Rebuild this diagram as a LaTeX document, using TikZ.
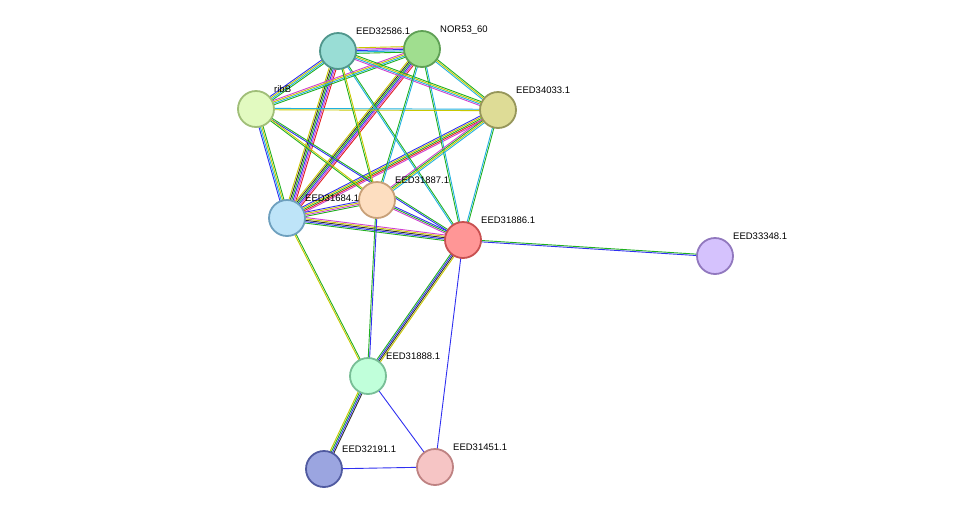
\documentclass[tikz,border=0pt]{standalone}
\usepackage{fontspec}
\setmainfont{Liberation Sans}
\usetikzlibrary{calc,backgrounds}
\definecolor{tm}{HTML}{C8C800}
\definecolor{nb}{HTML}{20B020}
\definecolor{db}{HTML}{20B0E0}
\definecolor{ex}{HTML}{D040D0}
\definecolor{co}{HTML}{3030F0}
\definecolor{fu}{HTML}{E02020}
\definecolor{ce}{HTML}{303030}
\newcommand{\stredge}[3]{%
  \foreach \c/\o in {#3} {
    \draw[\c, line width=0.9pt] ($(#1)!\o*1.4pt!90:(#2)$) -- ($(#2)!\o*1.4pt!-90:(#1)$);
  }}
\begin{document}
\begin{tikzpicture}
    [
    x=1pt,y=-1pt,
    prot/.style={circle,draw,line width=1.8pt,inner sep=0pt,minimum size=36pt},
    lab/.style={anchor=base west,font=\fontsize{9.5}{11}\selectfont,inner sep=0pt},
    ]
    \useasboundingbox (0,0) rectangle (975,515);
    \node (a) at (338,51) [prot,fill={rgb,255:red,153;green,221;blue,213},draw={rgb,255:red,80;green,150;blue,140}] {};
    \node (b) at (422,49) [prot,fill={rgb,255:red,160;green,222;blue,143},draw={rgb,255:red,95;green,160;blue,85}] {};
    \node (c) at (256,109) [prot,fill={rgb,255:red,226;green,250;blue,192},draw={rgb,255:red,160;green,190;blue,120}] {};
    \node (d) at (498,110) [prot,fill={rgb,255:red,222;green,220;blue,150},draw={rgb,255:red,150;green,150;blue,90}] {};
    \node (e) at (377,200) [prot,fill={rgb,255:red,253;green,222;blue,192},draw={rgb,255:red,200;green,160;blue,120}] {};
    \node (f) at (287,218) [prot,fill={rgb,255:red,190;green,228;blue,248},draw={rgb,255:red,110;green,160;blue,190}] {};
    \node (g) at (463,240) [prot,fill={rgb,255:red,255;green,150;blue,150},draw={rgb,255:red,200;green,80;blue,80}] {};
    \node (h) at (715,256) [prot,fill={rgb,255:red,213;green,194;blue,253},draw={rgb,255:red,145;green,120;blue,190}] {};
    \node (i) at (368,376) [prot,fill={rgb,255:red,192;green,255;blue,218},draw={rgb,255:red,120;green,190;blue,150}] {};
    \node (j) at (324,469) [prot,fill={rgb,255:red,155;green,165;blue,224},draw={rgb,255:red,80;green,90;blue,160}] {};
    \node (k) at (435,467) [prot,fill={rgb,255:red,246;green,197;blue,197},draw={rgb,255:red,190;green,130;blue,130}] {};

    \node (la) [lab] at ([shift={(18,-17)}]a) {EED32586.1};
    \node (lb) [lab] at ([shift={(18,-17)}]b) {NOR53\_60};
    \node (lc) [lab] at ([shift={(18,-17)}]c) {ribB};
    \node (ld) [lab] at ([shift={(18,-17)}]d) {EED34033.1};
    \node (le) [lab] at ([shift={(18,-17)}]e) {EED31887.1};
    \node (lf) [lab] at ([shift={(18,-17)}]f) {EED31684.1};
    \node (lg) [lab] at ([shift={(18,-17)}]g) {EED31886.1};
    \node (lh) [lab] at ([shift={(18,-17)}]h) {EED33348.1};
    \node (li) [lab] at ([shift={(18,-17)}]i) {EED31888.1};
    \node (lj) [lab] at ([shift={(18,-17)}]j) {EED32191.1};
    \node (lk) [lab] at ([shift={(18,-17)}]k) {EED31451.1};

    \begin{pgfonlayer}{background}
    \stredge{a}{b}{nb/-2,db/-1,co/0,ex/1,tm/2}
    \stredge{f}{a}{fu/-2.5,ex/-1.5,co/-0.5,nb/0.5,ce/1.5,tm/2.5}
    \stredge{f}{b}{fu/-2.5,ex/-1.5,co/-0.5,nb/0.5,ce/1.5,tm/2.5}
    \stredge{f}{d}{ex/-2,fu/-1,nb/0,tm/1,co/2}
    \stredge{f}{c}{nb/-1.5,tm/-0.5,db/0.5,co/1.5}
    \stredge{f}{e}{nb/-1.5,ex/-0.5,tm/0.5,co/1.5}
    \stredge{f}{g}{nb/-2,co/-1,ce/0,tm/1,ex/2}
    \stredge{g}{h}{co/-0.5,nb/0.5}
    \stredge{g}{i}{nb/-1.5,co/-0.5,ce/0.5,tm/1.5}
    \stredge{g}{k}{co/0}
    \stredge{i}{f}{nb/-0.5,tm/0.5}
    \stredge{i}{e}{co/-0.5,nb/0.5}
    \stredge{i}{j}{tm/-1.5,nb/-0.5,co/0.5,ce/1.5}
    \stredge{i}{k}{co/0}
    \stredge{j}{k}{co/0}
    \stredge{g}{a}{nb/-0.5,db/0.5}
    \stredge{g}{b}{db/-0.5,nb/0.5}
    \stredge{g}{d}{nb/-0.5,db/0.5}
    \stredge{g}{c}{nb/-0.5,co/0.5}
    \stredge{g}{e}{co/-1,nb/0,ex/1}
    \stredge{c}{a}{nb/-1.5,db/-0.5,tm/0.5,co/1.5}
    \stredge{c}{b}{nb/-1.5,db/-0.5,tm/0.5,ex/1.5}
    \stredge{c}{d}{tm/-0.5,db/0.5}
    \stredge{c}{e}{nb/-0.5,tm/0.5}
    \stredge{a}{d}{ex/-1.5,db/-0.5,tm/0.5,nb/1.5}
    \stredge{b}{d}{db/-1,tm/0,nb/1}
    \stredge{a}{e}{nb/-0.5,tm/0.5}
    \stredge{b}{e}{nb/-0.5,db/0.5}
    \stredge{d}{e}{ex/-1.5,nb/-0.5,tm/0.5,db/1.5}
    \end{pgfonlayer}
\end{tikzpicture}
\end{document}
